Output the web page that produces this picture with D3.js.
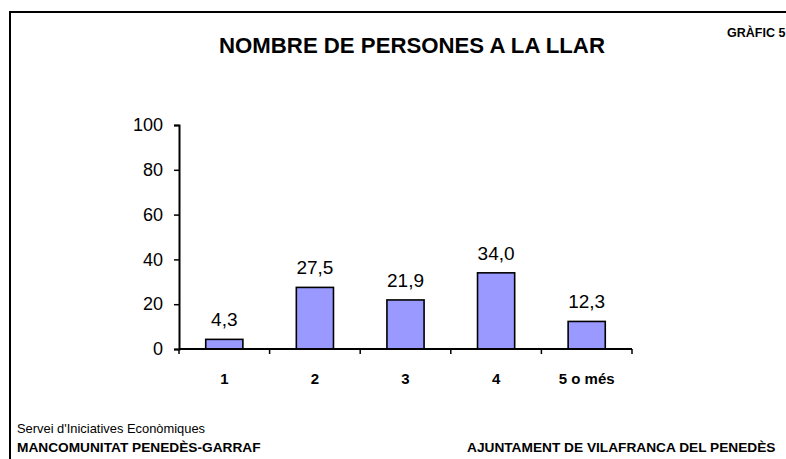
<!DOCTYPE html>
<html>
<head>
<meta charset="utf-8">
<script src="https://cdn.jsdelivr.net/npm/d3@7"></script>
<style>
  body { margin: 0; background: #fff; }
  svg text { font-family: "Liberation Sans", Arial, sans-serif; }
</style>
</head>
<body>
<div id="chart"></div>
<script>
var categories = ["1", "2", "3", "4", "5 o més"];
var values = [4.3, 27.5, 21.9, 34.0, 12.3];
var yTicks = [0, 20, 40, 60, 80, 100];

var svgWidth = 786;
var svgHeight = 459;

var margin = { top: 125, left: 179, right: 154, bottom: 110 };
var width = svgWidth - margin.left - margin.right;   // 453
var height = svgHeight - margin.top - margin.bottom; // 224

var svg = d3.select("#chart")
  .append("svg")
  .attr("width", svgWidth)
  .attr("height", svgHeight);

// page frame
svg.append("path")
  .attr("d", "M10,459 L10,12 L786,12")
  .attr("fill", "none")
  .attr("stroke", "#000")
  .attr("stroke-width", 2);

svg.append("text")
  .attr("x", 412)
  .attr("y", 53)
  .attr("text-anchor", "middle")
  .attr("font-size", 22.2)
  .attr("font-weight", "bold")
  .text("NOMBRE DE PERSONES A LA LLAR");

svg.append("text")
  .attr("x", 727)
  .attr("y", 37)
  .attr("font-size", 12.5)
  .attr("font-weight", "bold")
  .text("GRÀFIC 5");

var chartGroup = svg.append("g")
  .attr("transform", `translate(${margin.left}, ${margin.top})`);

var xScale = d3.scaleBand()
  .domain(categories)
  .range([0, width])
  .paddingInner(0.59)
  .paddingOuter(0.295);

var yScale = d3.scaleLinear()
  .domain([0, 100])
  .range([height, 0]);

// bars
chartGroup.selectAll("rect.bar")
  .data(values)
  .enter()
  .append("rect")
  .attr("class", "bar")
  .attr("x", (d, i) => xScale(categories[i]))
  .attr("y", d => yScale(d))
  .attr("width", xScale.bandwidth())
  .attr("height", d => height - yScale(d))
  .attr("fill", "#9999ff")
  .attr("stroke", "#000")
  .attr("stroke-width", 1.6);

// value labels
chartGroup.selectAll("text.val")
  .data(values)
  .enter()
  .append("text")
  .attr("class", "val")
  .attr("x", (d, i) => xScale(categories[i]) + xScale.bandwidth() / 2)
  .attr("y", d => yScale(d) - 13)
  .attr("text-anchor", "middle")
  .attr("font-size", 19)
  .text(d => d.toFixed(1).replace(".", ","));

// y axis
var leftAxis = d3.axisLeft(yScale)
  .tickValues(yTicks)
  .tickSize(5)
  .tickPadding(11);

var yAxisG = chartGroup.append("g").call(leftAxis);
yAxisG.select(".domain").attr("stroke-width", 2);
yAxisG.selectAll(".tick line").attr("stroke-width", 1.5);
yAxisG.selectAll(".tick text")
  .attr("font-size", 18)
  .attr("font-family", "Liberation Sans, Arial, sans-serif")
  .attr("fill", "#000");

// x axis: ticks on category boundaries
var xAxisG = chartGroup.append("g")
  .attr("transform", `translate(0, ${height})`);

xAxisG.append("line")
  .attr("x1", 0)
  .attr("x2", width)
  .attr("stroke", "#000")
  .attr("stroke-width", 2);

var step = xScale.step();
var bounds = d3.range(categories.length + 1).map(i => xScale(categories[0]) - step * 0.295 + i * step);
xAxisG.selectAll("line.tk")
  .data(bounds)
  .enter()
  .append("line")
  .attr("class", "tk")
  .attr("x1", d => d)
  .attr("x2", d => d)
  .attr("y1", 0)
  .attr("y2", 5)
  .attr("stroke", "#000")
  .attr("stroke-width", 1.5);

xAxisG.selectAll("text.cat")
  .data(categories)
  .enter()
  .append("text")
  .attr("class", "cat")
  .attr("x", d => xScale(d) + xScale.bandwidth() / 2)
  .attr("y", 35)
  .attr("text-anchor", "middle")
  .attr("font-size", 15)
  .attr("font-weight", "bold")
  .text(d => d);

// footer
svg.append("text")
  .attr("x", 17)
  .attr("y", 433)
  .attr("font-size", 12.9)
  .text("Servei d'Iniciatives Econòmiques");

svg.append("text")
  .attr("x", 17)
  .attr("y", 452)
  .attr("font-size", 13.7)
  .attr("font-weight", "bold")
  .text("MANCOMUNITAT PENEDÈS-GARRAF");

svg.append("text")
  .attr("x", 467)
  .attr("y", 452)
  .attr("font-size", 13.7)
  .attr("font-weight", "bold")
  .text("AJUNTAMENT DE VILAFRANCA DEL PENEDÈS");
</script>
</body>
</html>
